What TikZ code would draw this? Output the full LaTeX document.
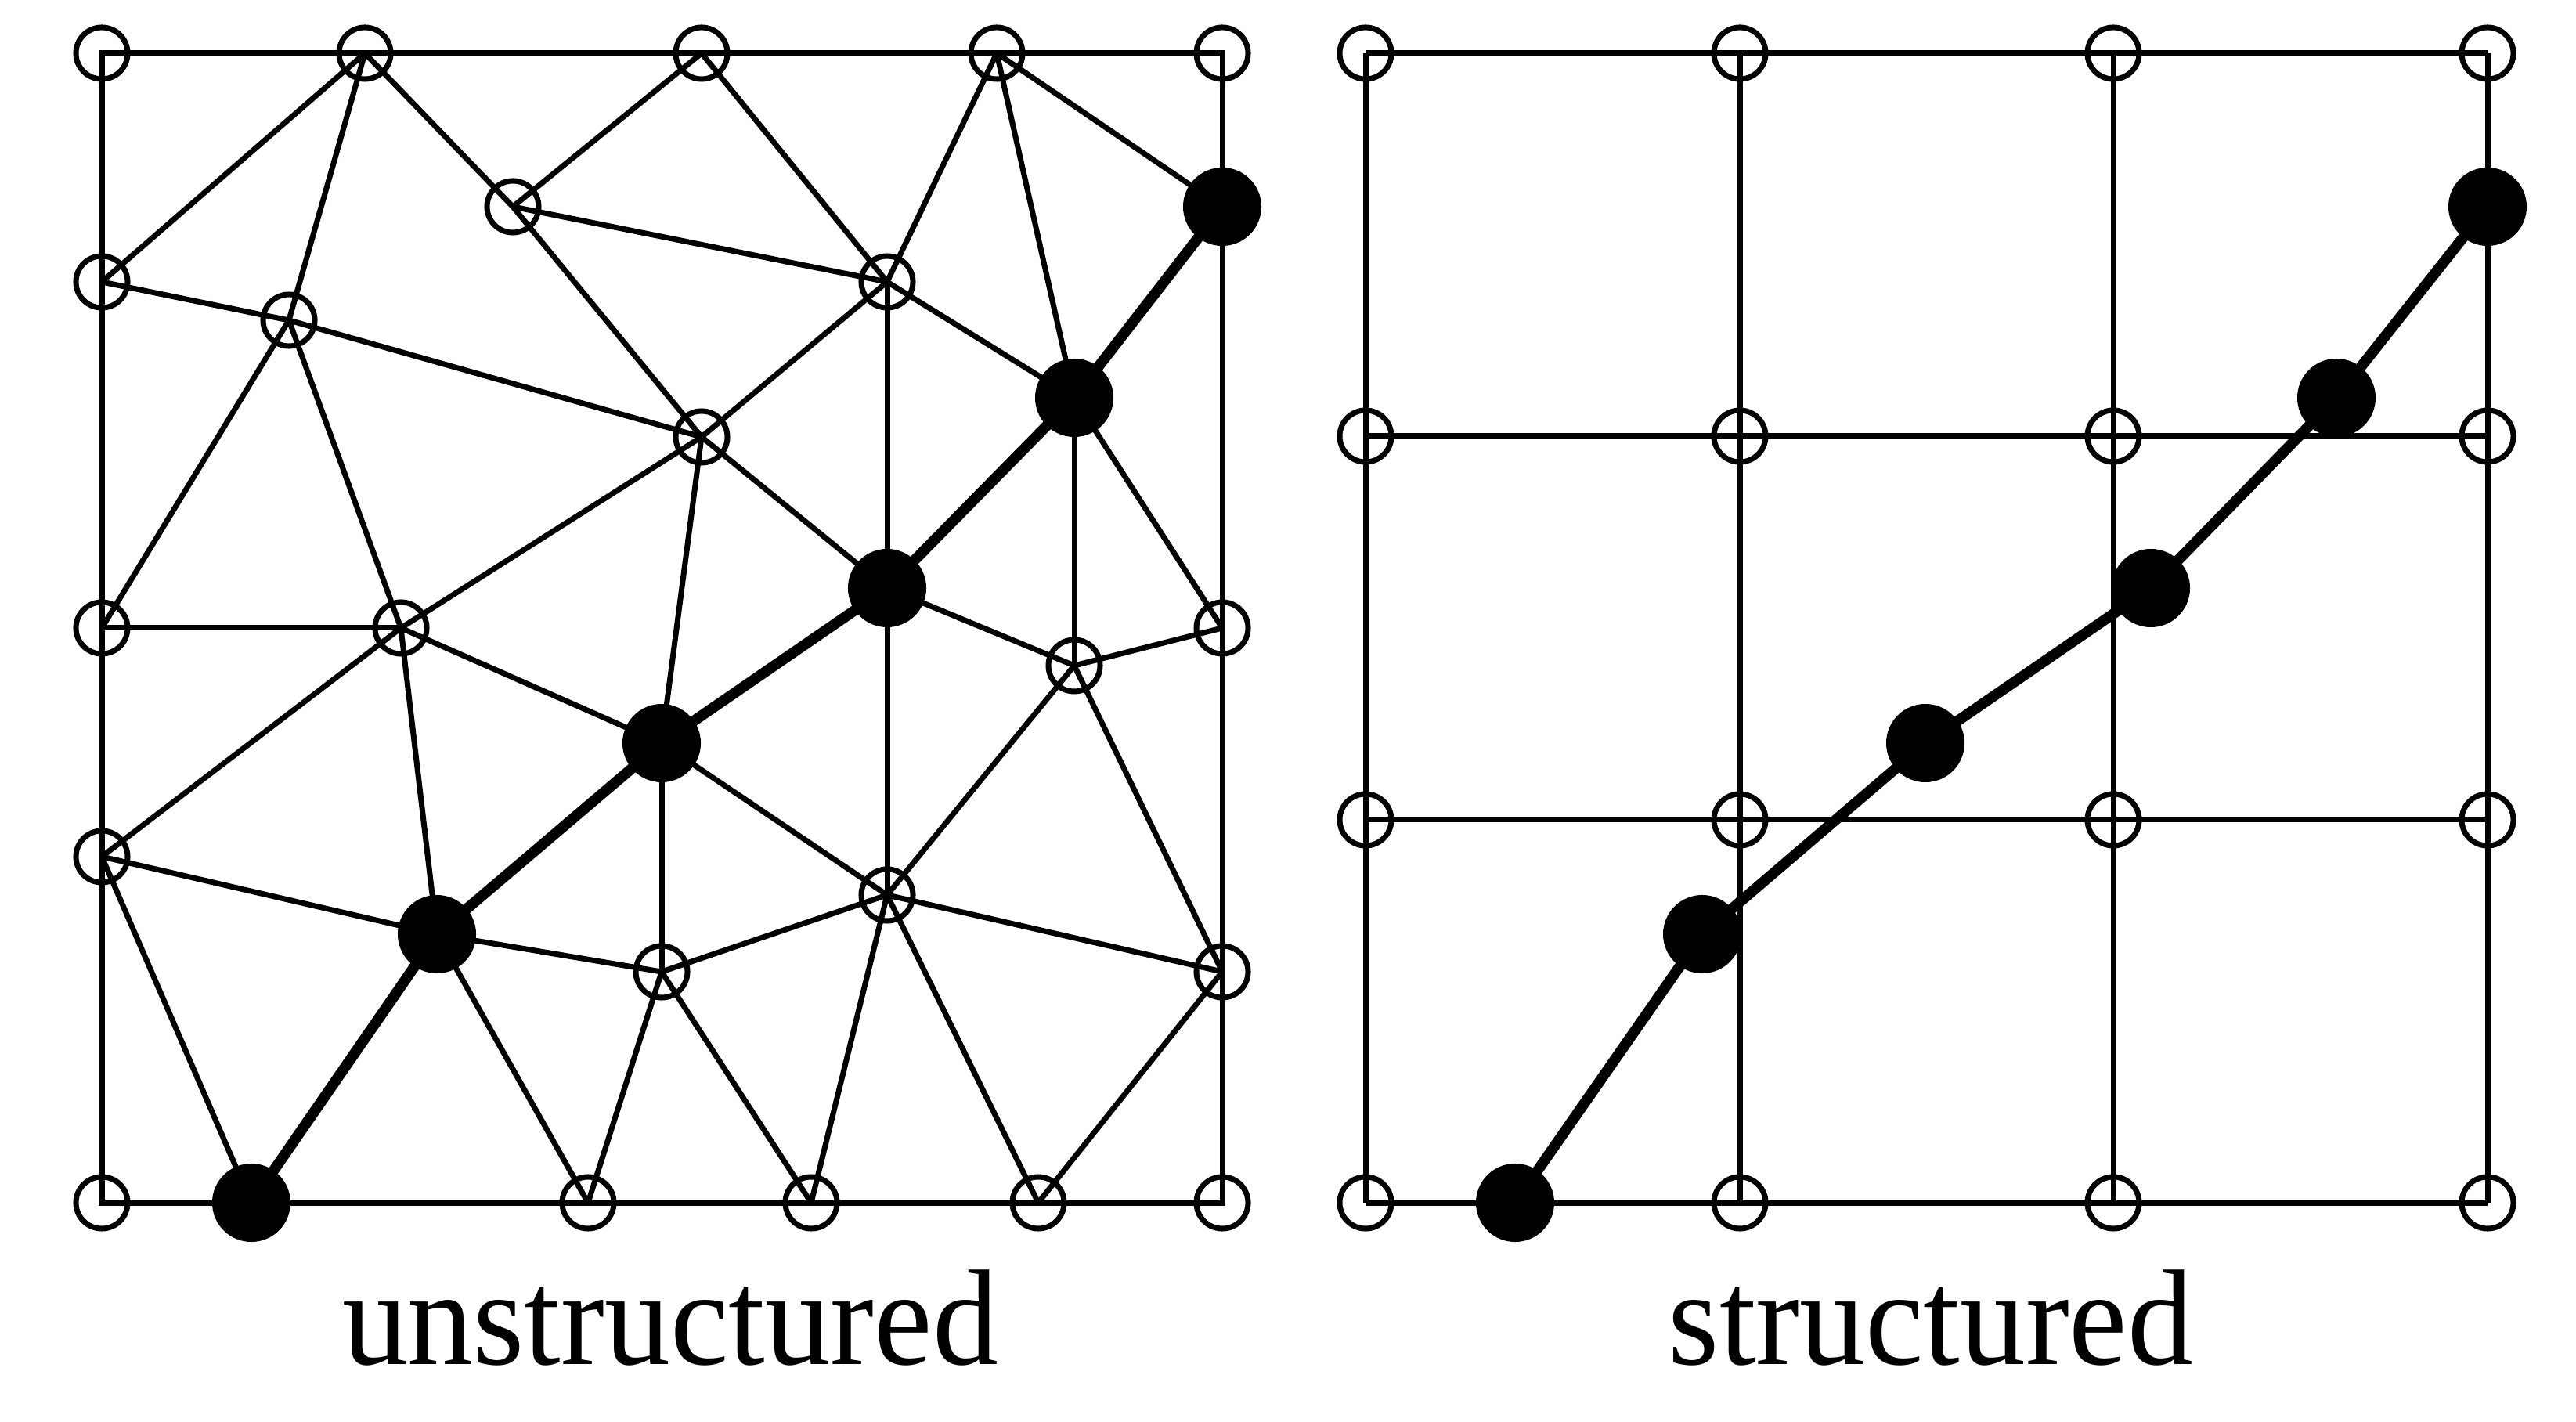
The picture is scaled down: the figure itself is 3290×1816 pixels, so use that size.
\documentclass[tikz,border=0pt]{standalone}
\usepackage{fontspec}
\setmainfont{Liberation Serif}
\begin{document}
\begin{tikzpicture}[x=0.01cm,y=-0.01cm,
  edge/.style={line width=0.07cm},
  pathline/.style={line width=0.135cm,line join=round},
  opennode/.style={circle,draw,line width=0.07cm,minimum size=0.66cm,inner sep=0pt,outer sep=0pt},
  fullnode/.style={circle,fill,minimum size=1.0cm,inner sep=0pt,outer sep=0pt},
  lab/.style={font=\fontsize{49.5pt}{50pt}\selectfont,anchor=base,inner sep=0pt,xscale=0.963}]
\useasboundingbox (0,0) rectangle (3290,1816);
% ---------- left: unstructured ----------
\node[opennode] (a1) at (130,68) {};
\node[opennode] (a2) at (466,68) {};
\node[opennode] (a3) at (896,68) {};
\node[opennode] (a4) at (1273,68) {};
\node[opennode] (a5) at (1561,68) {};
\node[opennode] (b) at (655,264) {};
\node[opennode] (c1) at (130,360) {};
\node[opennode] (c2) at (1133,360) {};
\node[opennode] (d) at (369,409) {};
\node[opennode] (e) at (896,558) {};
\node[opennode] (f1) at (130,802) {};
\node[opennode] (f2) at (512,802) {};
\node[opennode] (f3) at (1561,802) {};
\node[opennode] (g) at (1372,850) {};
\node[opennode] (h) at (130,1094) {};
\node[opennode] (i) at (1133,1143) {};
\node[opennode] (j1) at (1561,1241) {};
\node[opennode] (j2) at (845,1241) {};
\node[opennode] (k1) at (130,1536) {};
\node[opennode] (k2) at (751,1536) {};
\node[opennode] (k3) at (1036,1536) {};
\node[opennode] (k4) at (1326,1536) {};
\node[opennode] (k5) at (1561,1536) {};
\node[fullnode] (F1) at (321,1536) {};
\node[fullnode] (F2) at (558,1193) {};
\node[fullnode] (F3) at (845,949) {};
\node[fullnode] (F4) at (1133,751) {};
\node[fullnode] (F5) at (1372,508) {};
\node[fullnode] (F6) at (1561,264) {};
\draw[edge] (a1.center) -- (a5.center) -- (k5.center) -- (k1.center) -- cycle;
\foreach \p/\q in {c1/a2,a2/d,a2/b,b/a3,a3/c2,a4/c2,a4/F5,a4/F6,b/c2,b/e,
  c1/d,d/e,d/f1,d/f2,c2/e,c2/F5,c2/F4,e/F4,e/f2,e/F3,f1/f2,f2/h,f2/F3,f2/F2,
  F5/g,F5/f3,F4/g,F4/i,g/f3,g/i,g/j1,F3/j2,F3/i,h/F2,h/F1,F2/j2,F2/k2,
  j2/i,j2/k2,j2/k3,i/k3,i/k4,i/j1,j1/k4}
  \draw[edge] (\p.center) -- (\q.center);
\draw[pathline] (F1.center) -- (F2.center) -- (F3.center) -- (F4.center) -- (F5.center) -- (F6.center);
\node[lab] (ul) at (856,1742) {unstructured};
% ---------- right: structured ----------
\foreach \c/\x in {1/1744,2/2222,3/2699,4/3177}
  \foreach \r/\y in {1/68,2/557,3/1047,4/1536}
    \node[opennode] (s\r\c) at (\x,\y) {};
\node[fullnode] (R1) at (1935,1536) {};
\node[fullnode] (R2) at (2174,1193) {};
\node[fullnode] (R3) at (2459,949) {};
\node[fullnode] (R4) at (2747,751) {};
\node[fullnode] (R5) at (2984,508) {};
\node[fullnode] (R6) at (3177,264) {};
\foreach \r in {1,2,3,4}
  \draw[edge] (s\r1.center) -- (s\r4.center);
\foreach \c in {1,2,3,4}
  \draw[edge] (s1\c.center) -- (s4\c.center);
\draw[pathline] (R1.center) -- (R2.center) -- (R3.center) -- (R4.center) -- (R5.center) -- (R6.center);
\node[lab] (sl) at (2466,1742) {structured};
\end{tikzpicture}
\end{document}
